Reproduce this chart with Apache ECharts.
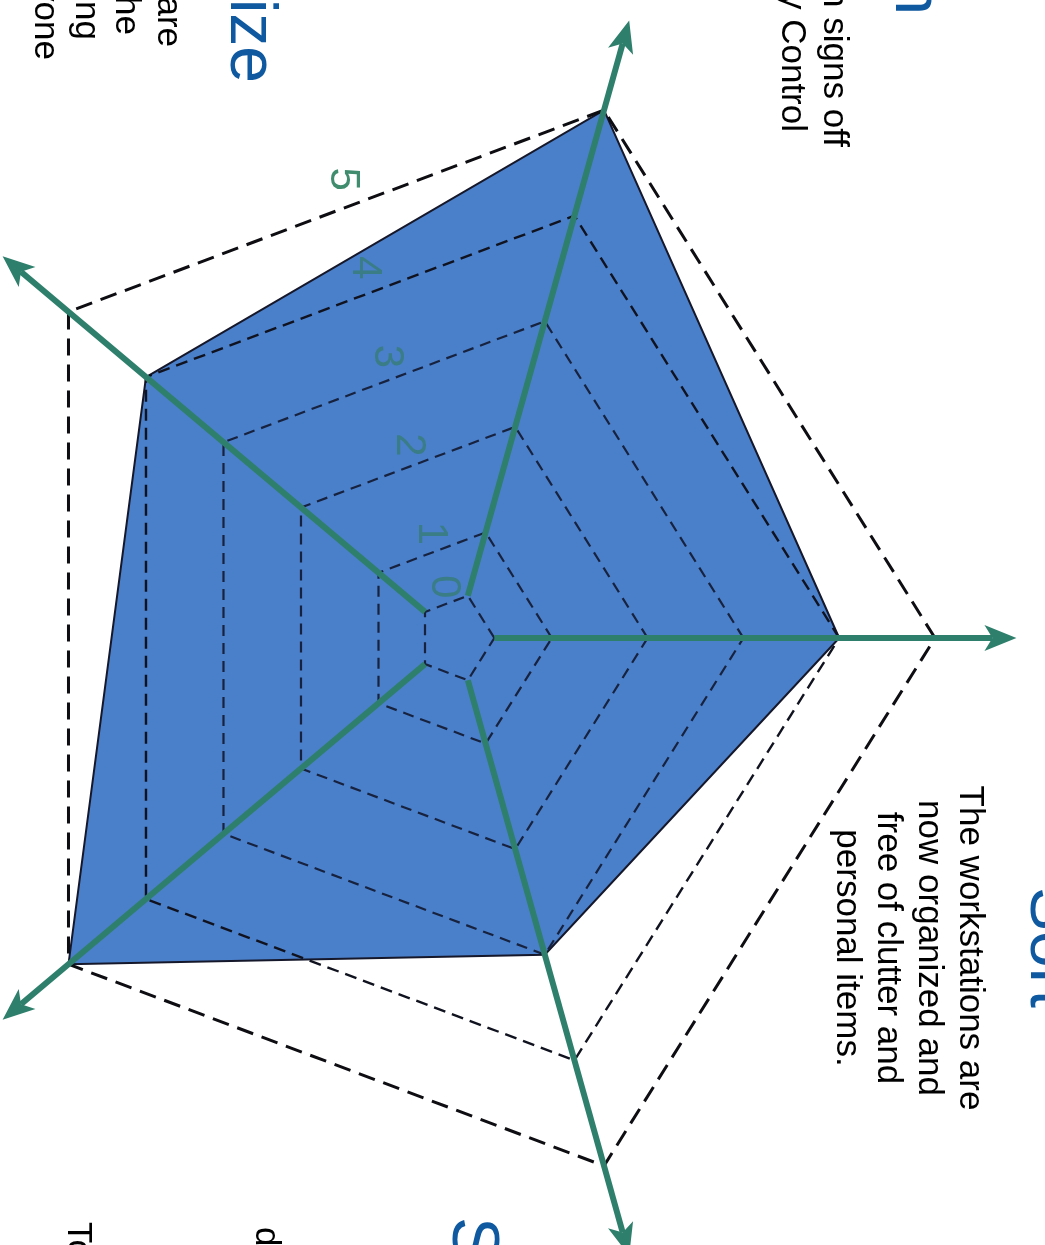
<!DOCTYPE html>
<html>
<head>
<meta charset="utf-8">
<script src="https://cdn.jsdelivr.net/npm/echarts@6/dist/echarts.min.js"></script>
<style>
  html, body { margin: 0; padding: 0; background: #fff; }
  #chart { width: 1045px; height: 1245px; }
</style>
</head>
<body>
<div id="chart"></div>
<script>
// 5S audit radar: one score (0-5) per pillar, axes counter-clockwise from the right
const pillars = ['Sort', 'Sustain', 'Standardize', 'Shine', 'Set in Order'];
const scores = [4, 5, 4, 5, 3];
const levels = [0, 1, 2, 3, 4, 5];
const levelLabels = ['0', '1', '2', '3', '4', '5'];

const sortNote = ['The workstations are', 'now organized and', 'free of clutter and', 'personal items.'];
const sustainNote = ['The production foreman signs off', 'on every audit with Quality Control'];
const standardizeNote = ['Standard work instructions are', 'now posted so that the', 'whole team is following', 'the same steps as everyone'];
const shineNote = ['To keep the area clean,', 'daily cleaning is scheduled'];

// layout
const W = 1045, H = 1245;
const cx = 456, cy = 638;          // radar centre in pixels
const pxX = 95.8, pxY = 111;        // pixels per score unit, horizontal / vertical
const hubR = 0.4;                   // the "0" ring is a small hub
const axisEnd = 5.85;               // arrow tips
const labelAngle = 106;             // level numbers run between the 2nd and 3rd axes

const BLUE = '#4a7fc9', GREEN = '#2e7f6b', DASH = '#17223f', TITLE = '#0f59a0';
const FONT = '"Liberation Sans", Arial, sans-serif';

const step = 360 / pillars.length;
function pt(r, deg) {
  const a = deg * Math.PI / 180;
  return [r * Math.cos(a), r * Math.sin(a)];
}
const ringR = v => (v === 0 ? hubR : v);

const chart = echarts.init(document.getElementById('chart'), null, { renderer: 'canvas' });

function vtext(x, y, text, o) {
  const style = Object.assign({
    text: text, fill: '#000', font: '35px ' + FONT,
    align: 'left', textAlign: 'left', verticalAlign: 'middle', textVerticalAlign: 'middle'
  }, o || {});
  if (o && o.align) style.textAlign = o.align;
  if (o && o.verticalAlign) style.textVerticalAlign = o.verticalAlign;
  return { type: 'text', x: x, y: y, rotation: -Math.PI / 2, silent: true, style: style };
}

const titleFont = '66px ' + FONT;
const graphics = [
  vtext(1049, 887, pillars[0], { fill: TITLE, font: titleFont }),
  vtext(914, 15, pillars[1], { fill: TITLE, font: titleFont, align: 'right' }),
  vtext(249, 83, pillars[2], { fill: TITLE, font: titleFont, align: 'right' }),
  vtext(471, 1217, pillars[4], { fill: TITLE, font: titleFont }),
  vtext(990, 948, sortNote.join('\n'), { align: 'center', verticalAlign: 'top', lineHeight: 41 }),
  vtext(834, 147, sustainNote[0], { align: 'right' }),
  vtext(792, 132, sustainNote[1], { align: 'right' }),
  vtext(168, 47, standardizeNote[0], { align: 'right' }),
  vtext(126, 35, standardizeNote[1], { align: 'right' }),
  vtext(86, 40, standardizeNote[2], { align: 'right' }),
  vtext(45, 60, standardizeNote[3], { align: 'right' }),
  vtext(78, 1222, shineNote[0]),
  vtext(266, 1227, shineNote[1])
];

function ringStyle(v) {
  if (v === 5) return { stroke: '#0d0d12', lineWidth: 3, lineDash: [17, 9] };
  if (v === 4) return { stroke: '#10131f', lineWidth: 2.4, lineDash: [12, 7] };
  return { stroke: DASH, lineWidth: 2.2, lineDash: [11, 7] };
}

chart.setOption({
  animation: false,
  backgroundColor: '#fff',
  grid: { left: 0, right: 0, top: 0, bottom: 0 },
  xAxis: { type: 'value', show: false, min: -cx / pxX, max: (W - cx) / pxX, splitLine: { show: false } },
  yAxis: { type: 'value', show: false, min: -(H - cy) / pxY, max: cy / pxY, splitLine: { show: false } },
  graphic: graphics,
  series: [
    {
      // scored area
      type: 'custom', coordinateSystem: 'cartesian2d', z: 2, silent: true,
      data: [scores],
      renderItem: function (params, api) {
        const pts = pillars.map((_, i) => api.coord(pt(api.value(i), i * step)));
        return { type: 'polygon', shape: { points: pts },
          style: { fill: BLUE, stroke: '#15172a', lineWidth: 2, lineJoin: 'miter' } };
      }
    },
    {
      // level numbers
      type: 'custom', coordinateSystem: 'cartesian2d', z: 3, silent: true,
      data: levels.map(v => [v]),
      renderItem: function (params, api) {
        const v = api.value(0);
        const r = 0.83 * ringR(v) + 0.15;
        const p = api.coord(pt(r, labelAngle));
        return { type: 'text', x: p[0], y: p[1], rotation: -Math.PI / 2,
          style: { text: levelLabels[params.dataIndex], font: '42px ' + FONT,
            fill: v === 5 ? '#3f8c6e' : '#3a7d86',
            align: 'center', verticalAlign: 'middle', textAlign: 'center', textVerticalAlign: 'middle' } };
      }
    },
    {
      // level rings
      type: 'custom', coordinateSystem: 'cartesian2d', z: 4, silent: true,
      data: levels.map(v => [v]),
      renderItem: function (params, api) {
        const v = api.value(0);
        const pts = pillars.map((_, i) => api.coord(pt(ringR(v), i * step)));
        return { type: 'polygon', shape: { points: pts },
          style: Object.assign({ fill: 'none' }, ringStyle(v)) };
      }
    },
    {
      // pillar axes with arrow heads
      type: 'custom', coordinateSystem: 'cartesian2d', z: 5, silent: true,
      data: pillars.map((_, i) => [i]),
      renderItem: function (params, api) {
        const i = api.value(0);
        const p0 = api.coord(pt(hubR, i * step));
        const p1 = api.coord(pt(axisEnd, i * step));
        const dx = p1[0] - p0[0], dy = p1[1] - p0[1];
        const len = Math.sqrt(dx * dx + dy * dy);
        const ux = dx / len, uy = dy / len, nx = -uy, ny = ux;
        const hl = 30, hw = 13, notch = 6;
        const base = [p1[0] - ux * hl, p1[1] - uy * hl];
        const head = [
          p1,
          [base[0] + nx * hw - ux * 2, base[1] + ny * hw - uy * 2],
          [base[0] + ux * notch, base[1] + uy * notch],
          [base[0] - nx * hw - ux * 2, base[1] - ny * hw - uy * 2]
        ];
        return { type: 'group', children: [
          { type: 'line', shape: { x1: p0[0], y1: p0[1], x2: base[0] + ux * notch, y2: base[1] + uy * notch },
            style: { stroke: GREEN, lineWidth: 6 } },
          { type: 'polygon', shape: { points: head }, style: { fill: GREEN } }
        ] };
      }
    }
  ]
});
</script>
</body>
</html>
